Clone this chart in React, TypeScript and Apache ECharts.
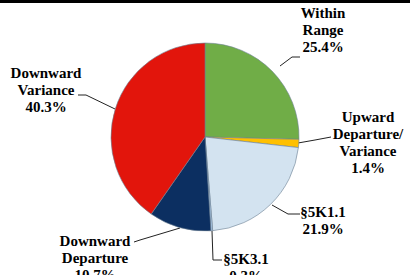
import React, { useEffect, useRef } from "react";
import * as echarts from "echarts";

const categories = [
  "Within\nRange",
  "Upward\nDeparture/\nVariance",
  "§5K1.1",
  "§5K3.1",
  "Downward\nDeparture",
  "Downward\nVariance",
];
const shares = [25.4, 1.4, 21.9, 0.3, 10.7, 40.3];
const sliceColors = ["#70AD47", "#FFC000", "#D3E3F0", "#A9C8E8", "#0C2F61", "#E2150C"];

// label placement (centre of text block) and leader-line points
const labelCenters = [
  [323, 30],
  [368, 142],
  [323, 220],
  [246, 267],
  [95, 258],
  [46, 90],
];
const leaderLines = [
  [[280, 66], [292, 57], [300, 57]],
  [[298, 143], [315, 140], [331, 137]],
  [[272, 205], [288, 214], [300, 214]],
  [[212, 231], [213, 260], [222, 260]],
  [[180, 228], [140, 240], [134, 242]],
  [[115, 109], [86, 95], [78, 95]],
];

export default function App() {
  const ref = useRef<HTMLDivElement>(null);
  useEffect(() => {
    if (!ref.current) return;
    const chart = echarts.init(ref.current, undefined, { renderer: "svg" });
    chart.setOption({
      animation: false,
      backgroundColor: "#ffffff",
      graphic: [
        { type: "rect", left: 0, top: 0, shape: { width: 410, height: 3 }, style: { fill: "#000000" } },
      ],
      series: [
        {
          type: "pie",
          center: [205, 137],
          radius: 94,
          startAngle: 90,
          clockwise: true,
          avoidLabelOverlap: false,
          data: categories.map((name, i) => ({
            name,
            value: shares[i],
            itemStyle: { color: sliceColors[i] },
          })),
          itemStyle: { borderColor: "#6b7f92", borderWidth: 0.6 },
          label: {
            show: true,
            position: "outside",
            formatter: "{b}\n{c}%",
            fontFamily: "Liberation Serif",
            fontWeight: "bold",
            fontSize: 15,
            lineHeight: 17,
            color: "#000000",
            align: "center",
          },
          labelLine: { show: true, lineStyle: { color: "#222222", width: 1 } },
          labelLayout: (params: any) => {
            const i = params.dataIndex;
            return {
              x: labelCenters[i][0],
              y: labelCenters[i][1],
              align: "center",
              verticalAlign: "middle",
              labelLinePoints: leaderLines[i],
            };
          },
        },
      ],
    });
    return () => chart.dispose();
  }, []);
  return (
    <div ref={ref} style={{ position: "absolute", left: 0, top: 0, width: 410, height: 275 }} />
  );
}
